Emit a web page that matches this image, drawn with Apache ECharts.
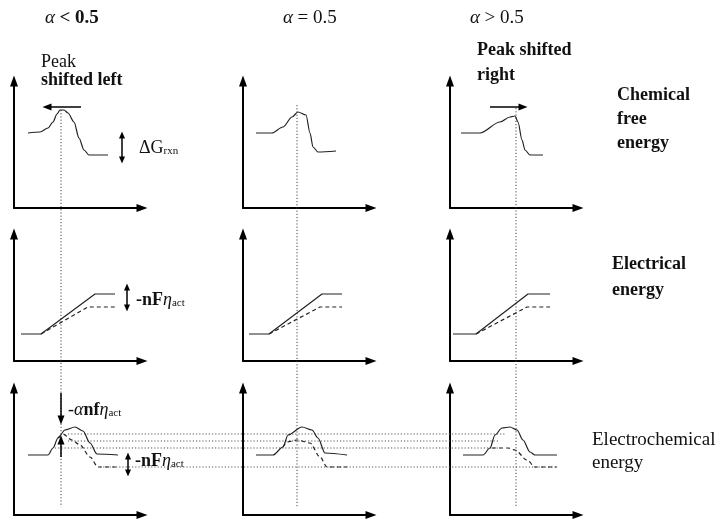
<!DOCTYPE html>
<html><head><meta charset="utf-8">
<script src="https://cdn.jsdelivr.net/npm/echarts@6/dist/echarts.min.js"></script>
<style>html,body{margin:0;padding:0;background:#fff}#c{width:725px;height:520px}</style>
</head><body><div id="c"></div>
<script>
// Each panel: x = distance right of its y-axis, y = height above its x-axis (same units for all panels)
// Row 1: chemical free energy
const chemLeft  = [[14,75],[26,76],[34,80],[39,86],[43,94],[46,98],[50,98],[54,95],[60,86],[65,70],[70,58],[75,53],[94,53]];
const chemMid   = [[13,75],[29,75],[40,81],[49,91],[55,96],[63,93],[67,75],[70,61],[75,56],[93,57]];
const chemRight = [[11,75],[30,75],[50,86],[60,91],[65,92],[68,86],[72,68],[75,58],[80,53],[93,53]];
// Row 2: electrical energy (solid and dashed)
const elecSolidLeft  = [[7,27],[27,27],[81,67],[101,67]];
const elecDashLeft   = [[27,27],[74,54],[101,54]];
const elecSolidMid   = [[6,27],[26,27],[79,67],[99,67]];
const elecDashMid    = [[26,27],[77,54],[99,54]];
const elecSolidRight = [[3,27],[26,27],[78,67],[100,67]];
const elecDashRight  = [[26,27],[77,54],[100,54]];
// Row 3: electrochemical energy (solid and dashed)
const ecSolidLeft  = [[14,60],[34,60],[39,67],[44,77],[51,85],[61,88],[69,84],[76,72],[83,61],[104,60]];
const ecDashLeft   = [[44,77],[49,81],[58,75],[66,70],[76,58],[84,48],[104,48]];
const ecSolidMid   = [[13,60],[30,60],[40,68],[45,80],[59,88],[69,85],[75,77],[82,62],[104,60]];
const ecDashMid    = [[40,68],[44,73],[54,75],[67,72],[77,58],[84,48],[104,48]];
const ecSolidRight = [[13,60],[33,60],[40,67],[45,80],[52,87],[60,88],[67,85],[73,75],[80,63],[85,60],[107,60]];
const ecDashRight  = [[42,67],[58,67],[65,65],[77,55],[85,48],[107,48]];
// Dotted guides, measured from the origin of the bottom-left panel (span all panels)
const peakLineLeft  = [[47,405],[47,8]];
const peakLineMid   = [[283,410],[283,8]];
const peakLineRight = [[502,407],[502,8]];
const level1 = [[54,81],[491,81]];
const level2 = [[54,74],[486,74]];
const level3 = [[41,67],[486,67]];
const level4 = [[86,48],[543,48]];
// Arrows [from, to] in panel units
const shiftLeftArrow  = [[67,101],[33,101]];
const shiftRightArrow = [[40,101],[73,101]];
const dGArrow         = [[108,73],[108,48]];
const nFArrowElec     = [[113,74],[113,53]];
const downArrow       = [[47,122],[47,95]];
const upArrow         = [[47,58],[47,75]];
const nFArrowEc       = [[114,59],[114,42]];

const F = '"Liberation Serif","DejaVu Serif",serif';
const colLeft = [14, 243, 450];
const rowBottom = [208, 361, 515];
const W = 128, H = 127;

const grids = [], xAxes = [], yAxes = [];
for (let r = 0; r < 3; r++) for (let c = 0; c < 3; c++) {
  const i = r * 3 + c;
  grids.push({left: colLeft[c], top: rowBottom[r] - H, width: W, height: H});
  const ax = (max) => ({type:'value', gridIndex:i, min:0, max:max,
    axisLine:{show:true, onZero:false, symbol:['none','triangle'], symbolSize:[8,11], lineStyle:{color:'#000', width:2}},
    axisTick:{show:false}, axisLabel:{show:false}, splitLine:{show:false}});
  xAxes.push(ax(W)); yAxes.push(ax(H));
}
// overlay coordinate system sharing the bottom-left panel origin, for guides that cross panels
const OV = 9;
grids.push({left: colLeft[0], top: 0, width: 725 - colLeft[0], height: rowBottom[2]});
xAxes.push({type:'value', gridIndex:OV, min:0, max:725 - colLeft[0], show:false});
yAxes.push({type:'value', gridIndex:OV, min:0, max:rowBottom[2], show:false});

const series = [];
function curve(g, data, type, color, width, smooth) {
  series.push({type:'line', xAxisIndex:g, yAxisIndex:g, data:data, symbol:'none', showSymbol:false,
    clip:false, silent:true, animation:false, smooth: smooth || false, smoothMonotone: smooth ? 'x' : undefined,
    lineStyle:{color:color || '#222', width:width || 1.2, type:type || 'solid'}});
}
function arrows(g, list) {
  series.push({type:'line', xAxisIndex:g, yAxisIndex:g, data:[], symbol:'none', silent:true, animation:false,
    markLine:{silent:true, animation:false, symbol:['none','triangle'], symbolSize:[7,9],
      label:{show:false}, emphasis:{disabled:true},
      lineStyle:{color:'#000', width:1.5, type:'solid'},
      data: list.map(a => [
        Object.assign({coord:a.pts[0]}, a.both ? {symbol:'triangle', symbolSize:[6,7]} : {}),
        Object.assign({coord:a.pts[1]}, a.both ? {symbol:'triangle', symbolSize:[6,7]} : {})
      ])}});
}
const DOT = [1.2, 2], DASH = [4, 3], SM = 0.3;
// guides
curve(OV, peakLineLeft, DOT, '#444', 1);
curve(OV, peakLineMid, DOT, '#444', 1);
curve(OV, peakLineRight, DOT, '#444', 1);
curve(OV, level1, DOT, '#555', 1); curve(OV, level2, DOT, '#555', 1);
curve(OV, level3, DOT, '#555', 1); curve(OV, level4, DOT, '#555', 1);
// row 1
curve(0, chemLeft, null, null, null, SM); curve(1, chemMid, null, null, null, SM); curve(2, chemRight, null, null, null, SM);
arrows(0, [{pts:shiftLeftArrow}, {pts:dGArrow, both:true}]);
arrows(2, [{pts:shiftRightArrow}]);
// row 2
curve(3, elecSolidLeft); curve(3, elecDashLeft, DASH);
curve(4, elecSolidMid);  curve(4, elecDashMid, DASH);
curve(5, elecSolidRight); curve(5, elecDashRight, DASH);
arrows(3, [{pts:nFArrowElec, both:true}]);
// row 3
curve(6, ecSolidLeft, null, null, null, SM); curve(6, ecDashLeft, DASH, null, null, SM);
curve(7, ecSolidMid, null, null, null, SM);  curve(7, ecDashMid, DASH, null, null, SM);
curve(8, ecSolidRight, null, null, null, SM); curve(8, ecDashRight, DASH, null, null, SM);
arrows(6, [{pts:downArrow}, {pts:upArrow}, {pts:nFArrowEc, both:true}]);

const base = {fontFamily:F, fontSize:18, fill:'#111'};
const rich = {
  n: Object.assign({}, base),
  b: Object.assign({}, base, {fontWeight:'bold'}),
  i: Object.assign({}, base, {fontStyle:'italic'}),
  tn: Object.assign({}, base, {fontSize:19}),
  tb: Object.assign({}, base, {fontSize:19, fontWeight:'bold'}),
  ti: Object.assign({}, base, {fontSize:19, fontStyle:'italic'}),
  s: {fontFamily:F, fontSize:11, fill:'#111', verticalAlign:'bottom', lineHeight:8}
};
function t(x, y, text, extra) {
  return {type:'text', x:x, y:y, silent:true,
    style:Object.assign({text:text, rich:rich, fontFamily:F, fontSize:18, fill:'#111', verticalAlign:'middle', align:'left'}, extra || {})};
}
const graphic = [
  t(45, 18, '{ti|α} {tb|< 0.5}'),
  t(283, 18, '{ti|α} {tn|= 0.5}'),
  t(470, 18, '{ti|α} {tn|> 0.5}'),
  t(41, 62, '{n|Peak}'),
  t(41, 80, '{b|shifted left}'),
  t(477, 50, '{b|Peak shifted}'),
  t(477, 75, '{b|right}'),
  t(617, 83, 'Chemical\nfree\nenergy', {verticalAlign:'top', lineHeight:24, fontWeight:'bold'}),
  t(139, 148, '{n|ΔG}{s|rxn}'),
  t(136, 300, '{b|-nF}{i|η}{s|act}'),
  t(612, 251, 'Electrical\nenergy', {verticalAlign:'top', lineHeight:26, fontWeight:'bold'}),
  t(68, 410, '{n|-}{i|α}{b|nf}{i|η}{s|act}'),
  t(135, 461, '{b|-nF}{i|η}{s|act}'),
  t(592, 429, 'Electrochemical\nenergy', {verticalAlign:'top', lineHeight:23, fontSize:19})
];

const chart = echarts.init(document.getElementById('c'), null, {renderer:'canvas'});
chart.setOption({animation:false, backgroundColor:'#fff', grid:grids, xAxis:xAxes, yAxis:yAxes, series:series, graphic:graphic});
</script></body></html>
